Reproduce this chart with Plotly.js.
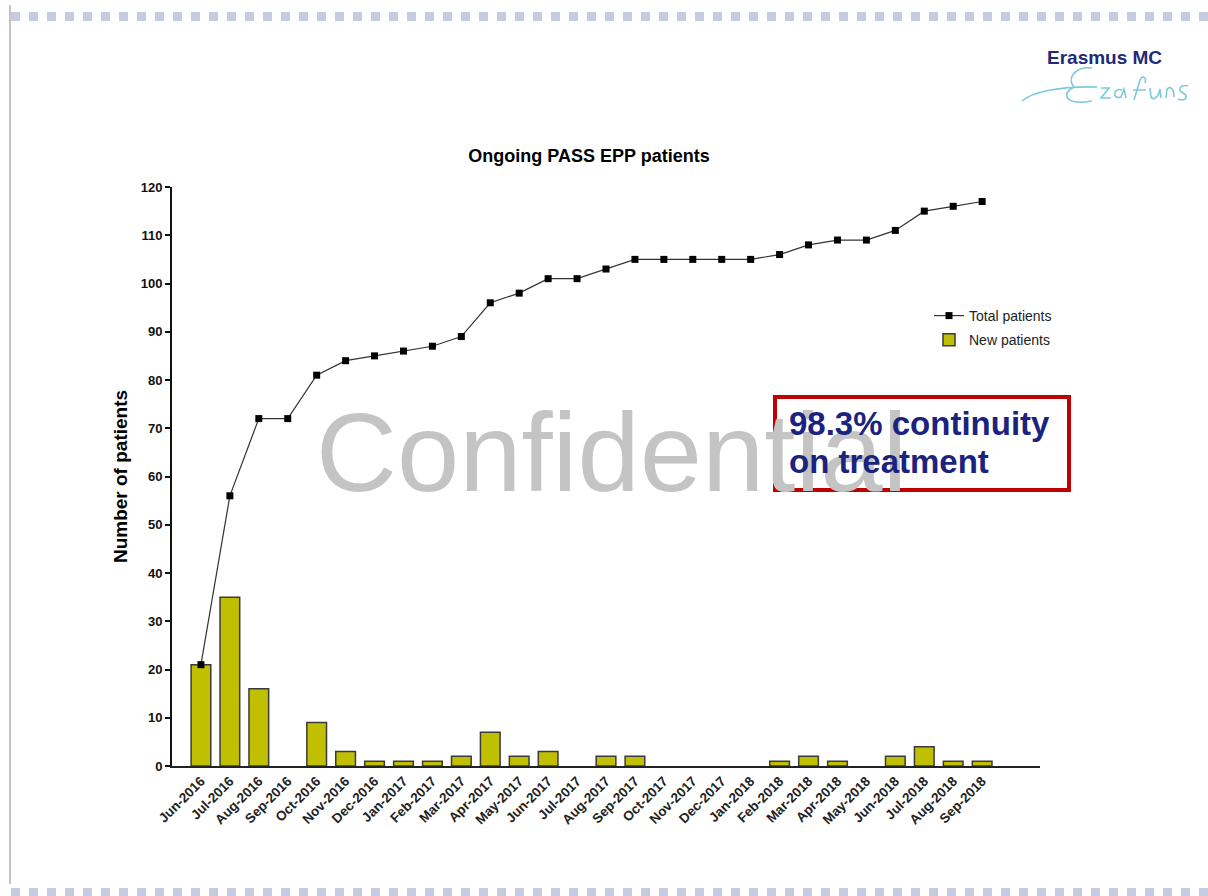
<!DOCTYPE html>
<html>
<head>
<meta charset="utf-8">
<script src="https://cdn.plot.ly/plotly-3.0.1.min.js"></script>
<style>
  html, body { margin: 0; padding: 0; background: #ffffff; }
  #chart { width: 1208px; height: 896px; }
</style>
</head>
<body>
<div id="chart"></div>
<script>
// ---- Data ----
const months = ["Jun-2016","Jul-2016","Aug-2016","Sep-2016","Oct-2016","Nov-2016","Dec-2016",
  "Jan-2017","Feb-2017","Mar-2017","Apr-2017","May-2017","Jun-2017","Jul-2017","Aug-2017","Sep-2017",
  "Oct-2017","Nov-2017","Dec-2017","Jan-2018","Feb-2018","Mar-2018","Apr-2018","May-2018","Jun-2018",
  "Jul-2018","Aug-2018","Sep-2018"];
const newPatients = [21,35,16,0,9,3,1,1,1,2,7,2,3,0,2,2,0,0,0,0,1,2,1,0,2,4,1,1];
const totalPatients = [21,56,72,72,81,84,85,86,87,89,96,98,101,101,103,105,105,105,105,105,106,108,109,109,111,115,116,117];
const yTicks = [0,10,20,30,40,50,60,70,80,90,100,110,120];

// ---- Layout geometry (pixels) ----
const W = 1208, H = 896;
const L = 172, R = 1040, T = 187, B = 766;
const pw = R - L, ph = B - T;
const px = x => (x - L) / pw;
const py = y => (B - y) / ph;
function pathToPaper(s) {
  return s.replace(/(-?\d+(?:\.\d+)?)[ ,]+(-?\d+(?:\.\d+)?)/g,
    (m, a, b) => px(+a).toFixed(5) + ',' + py(+b).toFixed(5));
}

const FONT = "Liberation Sans, Arial, Helvetica, sans-serif";

const traces = [
  {
    type: 'bar', name: 'New patients', x: months,
    y: newPatients.map(v => (v === 0 ? null : v)), width: 0.68,
    marker: { color: '#c0c000', line: { color: '#3a3a3a', width: 1.5 } },
    legendgroup: 'a', legendrank: 2, hoverinfo: 'x+y'
  },
  {
    type: 'scatter', mode: 'lines+markers', name: 'Total patients', x: months, y: totalPatients,
    line: { color: '#333333', width: 1.2 },
    marker: { symbol: 'square', size: 7, color: '#000000' },
    legendgroup: 'b', legendrank: 1, hoverinfo: 'x+y'
  }
];

const signature =
  "M 1022 101 C 1032 92 1060 86 1097 87 " +
  "M 1092 68 C 1076 66 1066 78 1074 87 C 1060 94 1066 106 1092 101 " +
  "M 1101 88 L 1109 88 L 1101 98 L 1111 98 " +
  "M 1122 90 C 1113 87 1112 100 1121 97 L 1124 89 L 1126 98 " +
  "M 1134 100 L 1140 80 C 1142 75 1147 77 1145 83 M 1133 90 L 1146 90 " +
  "M 1150 88 L 1151 97 C 1153 100 1158 99 1160 89 L 1161 98 " +
  "M 1166 98 L 1167 89 C 1170 86 1174 88 1174 97 " +
  "M 1188 86 C 1180 84 1177 90 1183 93 C 1189 96 1186 102 1178 99";

const shapes = [
  { type: 'line', xref: 'paper', yref: 'paper', x0: px(11), x1: px(1208), y0: py(16.5), y1: py(16.5),
    line: { color: '#c5cbe0', width: 9, dash: '9px,9px' } },
  { type: 'line', xref: 'paper', yref: 'paper', x0: px(11), x1: px(1208), y0: py(892.5), y1: py(892.5),
    line: { color: '#c5cbe0', width: 9, dash: '9px,9px' } },
  { type: 'line', xref: 'paper', yref: 'paper', x0: px(10), x1: px(10), y0: py(5), y1: py(884),
    line: { color: '#b0b0b0', width: 1.5 } },
  { type: 'path', xref: 'paper', yref: 'paper', path: pathToPaper(signature),
    line: { color: '#7cc9de', width: 1.6 } },
  { type: 'rect', xref: 'paper', yref: 'paper', layer: 'above',
    x0: px(775), x1: px(1069), y0: py(397), y1: py(490),
    line: { color: '#c00000', width: 4 }, fillcolor: 'rgba(0,0,0,0)' }
];

const annotations = [
  { xref: 'paper', yref: 'paper', x: px(1104), y: py(57), text: '<b>Erasmus MC</b>', showarrow: false,
    font: { family: FONT, size: 19, color: '#1e2a78' }, xanchor: 'center', yanchor: 'middle' },
  { xref: 'paper', yref: 'paper', x: px(612), y: py(452), text: 'Confidential', showarrow: false,
    font: { family: FONT, size: 112, color: '#c4c4c4' }, xanchor: 'center', yanchor: 'middle' },
  { xref: 'paper', yref: 'paper', x: px(787), y: py(423),
    text: '<b>98.3% continuity</b>', showarrow: false,
    font: { family: FONT, size: 33, color: '#1a237e' }, xanchor: 'left', yanchor: 'middle' },
  { xref: 'paper', yref: 'paper', x: px(787), y: py(461),
    text: '<b>on treatment</b>', showarrow: false,
    font: { family: FONT, size: 33, color: '#1a237e' }, xanchor: 'left', yanchor: 'middle' }
];

const layout = {
  width: W, height: H,
  margin: { l: L, r: W - R, t: T, b: H - B, pad: 0 },
  paper_bgcolor: '#ffffff', plot_bgcolor: 'rgba(0,0,0,0)',
  font: { family: FONT, color: '#111111' },
  title: {
    text: '<b>Ongoing PASS EPP patients</b>', xref: 'paper', x: px(589), xanchor: 'center',
    yref: 'container', y: 1 - 156 / H, yanchor: 'middle',
    font: { family: FONT, size: 18, color: '#000000' }
  },
  showlegend: true,
  legend: {
    x: px(929), y: py(300), xanchor: 'left', yanchor: 'top', traceorder: 'grouped',
    font: { family: FONT, size: 14, color: '#222222' }, bgcolor: 'rgba(0,0,0,0)',
    itemwidth: 30, tracegroupgap: 3
  },
  xaxis: {
    type: 'category', range: [-1, 29], showgrid: false, zeroline: false,
    showline: true, linecolor: '#222222', linewidth: 2, ticks: '',
    tickangle: -45, tickfont: { family: FONT, size: 13.5, color: '#222222', weight: 'bold' },
    automargin: false, fixedrange: true
  },
  yaxis: {
    range: [0, 120], tickvals: yTicks, showgrid: false, zeroline: false,
    showline: true, linecolor: '#111111', linewidth: 2,
    ticks: 'outside', ticklen: 5, tickwidth: 2, tickcolor: '#111111',
    tickfont: { family: FONT, size: 13, color: '#111111', weight: 'bold' },
    title: { text: '<b>Number of patients</b>', standoff: 8,
      font: { family: FONT, size: 19, color: '#000000' } },
    automargin: false, fixedrange: true
  },
  bargap: 0.3,
  shapes: shapes,
  annotations: annotations
};

Plotly.newPlot('chart', traces, layout, { displayModeBar: false, staticPlot: true });
</script>
</body>
</html>
